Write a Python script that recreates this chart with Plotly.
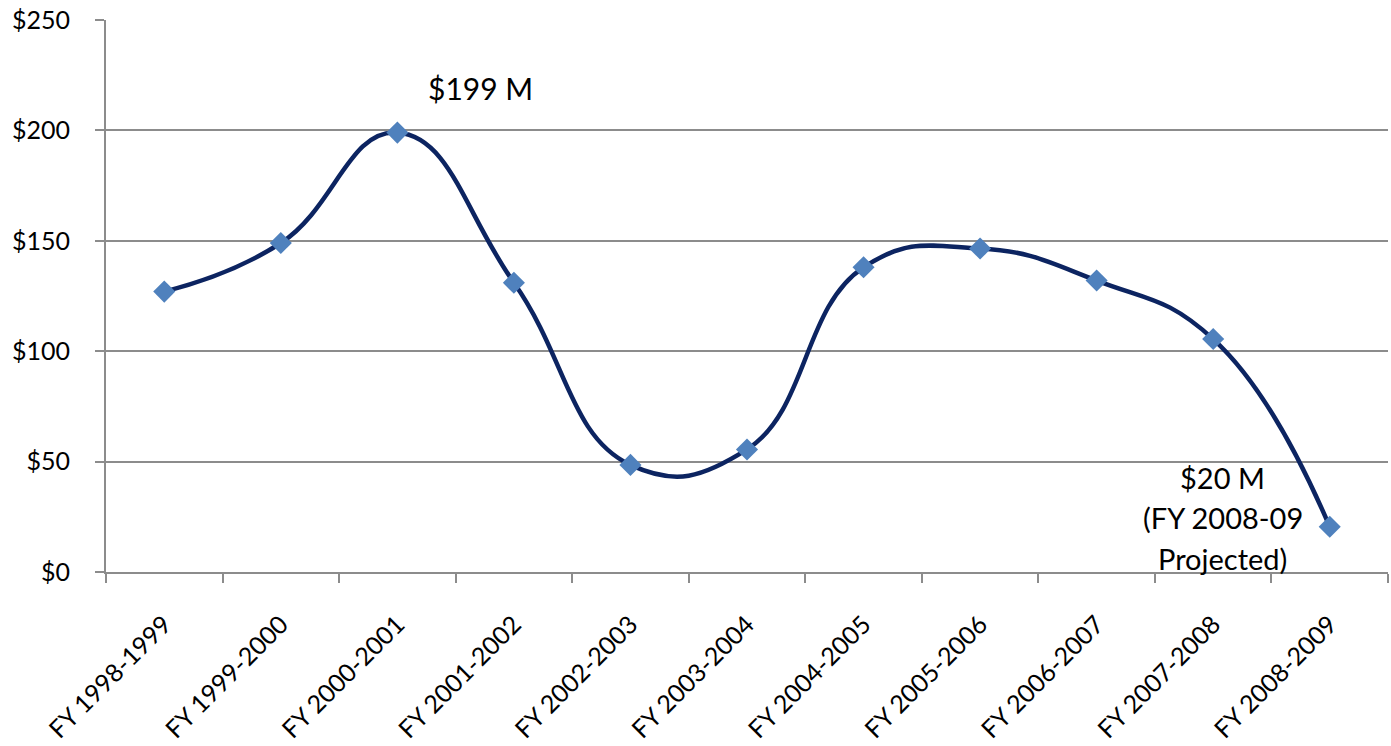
import plotly.graph_objects as go

categories = ["FY 1998-1999", "FY 1999-2000", "FY 2000-2001", "FY 2001-2002",
              "FY 2002-2003", "FY 2003-2004", "FY 2004-2005", "FY 2005-2006",
              "FY 2006-2007", "FY 2007-2008", "FY 2008-2009"]
values = [127, 149, 199, 131, 48.5, 55.5, 138, 146.5, 132, 105.5, 20.5]
y_ticks = [0, 50, 100, 150, 200, 250]
y_tick_labels = ["$0", "$50", "$100", "$150", "$200", "$250"]
peak_label = "$199 M"
end_label_lines = ["$20 M", "(FY 2008-09", "Projected)"]

FONT = "Lato, 'Open Sans', sans-serif"
GRID = "#8c8c8c"

fig = go.Figure()
fig.add_trace(go.Scatter(
    x=categories, y=values, mode="lines+markers",
    line=dict(color="#0c2461", width=4.5, shape="spline", smoothing=1.3),
    marker=dict(symbol="diamond", size=17, color="#4f81bd",
                line=dict(color="#4f81bd", width=0)),
    showlegend=False, hoverinfo="x+y",
))

fig.add_annotation(x=2.71, y=219, text=peak_label, showarrow=False,
                   font=dict(family=FONT, size=30, color="#000000"),
                   xanchor="center", yanchor="middle")
for txt, yy in zip(end_label_lines, [43, 24.5, 6.3]):
    fig.add_annotation(x=9.08, y=yy, text=txt, showarrow=False,
                       font=dict(family=FONT, size=29, color="#000000"),
                       xanchor="center", yanchor="middle")

fig.update_layout(
    width=1391, height=746,
    margin=dict(l=106, r=3, t=20, b=174),
    paper_bgcolor="white", plot_bgcolor="white",
    font=dict(family=FONT, color="#000000"),
    xaxis=dict(
        type="category", categoryorder="array", categoryarray=categories,
        range=[-0.5, len(categories) - 0.5],
        tickson="boundaries", ticks="outside", ticklen=9, tickwidth=2,
        tickcolor=GRID, showline=True, linecolor=GRID, linewidth=2,
        showgrid=False, tickangle=-45, ticklabelstandoff=26,
        tickfont=dict(family=FONT, size=25, color="#000000"),
    ),
    yaxis=dict(
        range=[0, 250], tickvals=y_ticks, ticktext=y_tick_labels,
        ticks="outside", ticklen=9, tickwidth=2, tickcolor=GRID,
        showline=True, linecolor=GRID, linewidth=2,
        showgrid=True, gridcolor=GRID, gridwidth=2, zeroline=False,
        ticklabelstandoff=20,
        tickfont=dict(family=FONT, size=25, color="#000000"),
    ),
)

fig.write_html("out.html")
